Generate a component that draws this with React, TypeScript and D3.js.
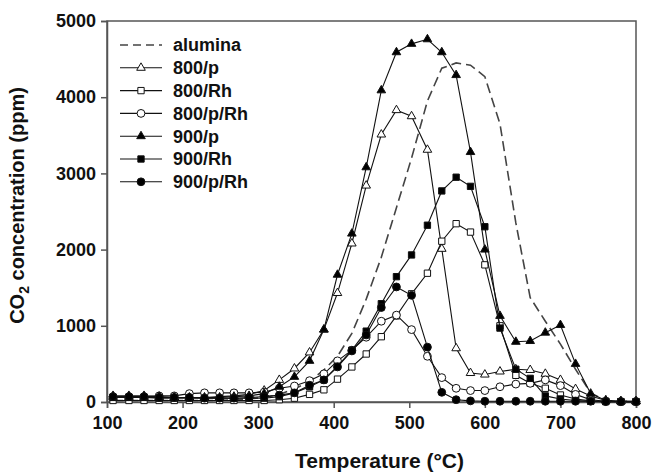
import React, { useRef, useEffect } from "react";
import * as d3 from "d3";

// measurement temperatures (°C), shared by all series
const temps = [
  108, 129, 149, 169, 189, 209, 229, 249, 268, 288, 308, 328, 348, 368, 387, 405, 424, 443,
  463, 483, 503, 524, 543, 562, 581, 600, 620, 641, 660, 680, 700, 720, 740, 760, 780, 800,
];

// CO2 concentration (ppm)
const alumina = [
  20, 20, 20, 20, 20, 20, 20, 20, 30, 40, 60, 100, 170, 270, 420, 600, 900, 1350,
  1900, 2550, 3200, 3950, 4380, 4450, 4420, 4270, 3650, 2350, 1370, 1060, 760, 430, 120, 20, 10, 10,
];
const p800 = [
  60, 60, 60, 60, 60, 60, 60, 70, 80, 100, 150, 290, 440, 650, 950, 1430, 2080, 2840,
  3510, 3830, 3750, 3310, 2010, 705, 380, 360, 400, 430, 420, 370, 290, 170, 80, 20, 10, 10,
];
const rh800 = [
  20, 20, 20, 20, 20, 20, 20, 20, 20, 20, 20, 30, 50, 100, 160, 300, 460, 630,
  857, 1130, 1420, 1690, 2110, 2340, 2230, 1800, 1000, 350, 245, 180, 92, 40, 15, 10, 5, 5,
];
const pRh800 = [
  70, 70, 70, 80, 80, 110, 120, 120, 120, 120, 130, 180, 210, 280, 370, 540, 680, 850,
  1060, 1140, 950, 600, 320, 180, 150, 150, 200, 235, 245, 290, 215, 100, 30, 10, 5, 5,
];
const p900 = [
  80, 80, 80, 70, 60, 60, 60, 60, 70, 80, 110, 200, 330, 540, 950, 1670, 2210, 3080,
  4090, 4590, 4700, 4760, 4590, 4290, 3280, 2000, 1130, 790, 800, 910, 1010, 500, 110, 20, 10, 10,
];
const rh900 = [
  60, 60, 60, 50, 50, 50, 50, 50, 50, 50, 50, 70, 120, 200, 290, 470, 680, 930,
  1290, 1645, 1930, 2320, 2770, 2950, 2830, 2300, 970, 430, 310, 80, 40, 20, 10, 5, 5, 5,
];
const pRh900 = [
  70, 70, 70, 60, 60, 60, 50, 50, 50, 60, 70, 90, 120, 220, 290, 460, 670, 880,
  1240, 1510, 1400, 720, 127, 30, 15, 10, 10, 10, 10, 10, 10, 10, 10, 5, 5, 5,
];

const seriesNames = ["alumina", "800/p", "800/Rh", "800/p/Rh", "900/p", "900/Rh", "900/p/Rh"];
const seriesValues = [alumina, p800, rh800, pRh800, p900, rh900, pRh900];
const seriesMarkers = ["none", "triangle", "square", "circle", "triangle", "square", "circle"];
const seriesFilled = [false, false, false, false, true, true, true];

const xTicks = [100, 200, 300, 400, 500, 600, 700, 800];
const yTicks = [0, 1000, 2000, 3000, 4000, 5000];

const Chart = () => {
  const svgRef = useRef(null);

  useEffect(() => {
    document.body.style.margin = "0";
    const svg = d3.select(svgRef.current);
    svg.selectAll("*").remove();

    const width = 656;
    const height = 472;
    const margin = { top: 21, right: 20, bottom: 70, left: 107 };
    const font = "'Liberation Sans', Arial, sans-serif";

    const x = d3.scaleLinear().domain([100, 800]).range([margin.left, width - margin.right]);
    const y = d3.scaleLinear().domain([0, 5000]).range([height - margin.bottom, margin.top]);

    const axisColor = "#555";

    // frame
    svg
      .append("rect")
      .attr("x", x(100))
      .attr("y", y(5000))
      .attr("width", x(800) - x(100))
      .attr("height", y(0) - y(5000))
      .attr("fill", "none")
      .attr("stroke", axisColor)
      .attr("stroke-width", 1.5);

    // axes
    const xAxis = svg
      .append("g")
      .attr("transform", `translate(0,${y(0)})`)
      .call(d3.axisBottom(x).tickValues(xTicks).tickSize(6).tickPadding(8).tickFormat(d3.format("d")));
    const yAxis = svg
      .append("g")
      .attr("transform", `translate(${x(100)},0)`)
      .call(d3.axisLeft(y).tickValues(yTicks).tickSize(6).tickPadding(5).tickFormat(d3.format("d")));

    [xAxis, yAxis].forEach((g) => {
      g.select(".domain").attr("stroke", axisColor).attr("stroke-width", 1.5);
      g.selectAll(".tick line").attr("stroke", axisColor).attr("stroke-width", 1.5);
      g.selectAll("text")
        .attr("fill", "#111")
        .style("font-family", font)
        .style("font-weight", "bold")
        .style("font-size", "18px");
    });

    // axis titles
    svg
      .append("text")
      .attr("x", (x(100) + x(800)) / 2 + 8)
      .attr("y", 468)
      .attr("text-anchor", "middle")
      .style("font-family", font)
      .style("font-weight", "bold")
      .style("font-size", "21px")
      .attr("fill", "#111")
      .text("Temperature (°C)");

    const yTitle = svg
      .append("text")
      .attr("transform", `translate(24,${(y(0) + y(5000)) / 2 - 6}) rotate(-90)`)
      .attr("text-anchor", "middle")
      .style("font-family", font)
      .style("font-weight", "bold")
      .style("font-size", "20px")
      .attr("fill", "#111");
    yTitle.append("tspan").text("CO");
    yTitle.append("tspan").attr("dy", 5).style("font-size", "14px").text("2");
    yTitle.append("tspan").attr("dy", -5).text(" concentration (ppm)");

    const symbolFor = (m) => {
      if (m === "triangle") return d3.symbol().type(d3.symbolTriangle).size(32)();
      if (m === "square") return d3.symbol().type(d3.symbolSquare).size(40)();
      return d3.symbol().type(d3.symbolCircle).size(48)();
    };

    const line = d3
      .line()
      .x((d) => x(d[0]))
      .y((d) => y(d[1]));

    const plot = svg.append("g");
    seriesValues.forEach((vals, i) => {
      const pts = temps.map((t, j) => [t, vals[j]]);
      const dashed = seriesMarkers[i] === "none";
      plot
        .append("path")
        .datum(pts)
        .attr("d", line)
        .attr("fill", "none")
        .attr("stroke", dashed ? "#444" : "#111")
        .attr("stroke-width", dashed ? 1.6 : 1.1)
        .attr("stroke-dasharray", dashed ? "10,5" : null);
      if (!dashed) {
        plot
          .selectAll(null)
          .data(pts)
          .enter()
          .append("path")
          .attr("d", symbolFor(seriesMarkers[i]))
          .attr("transform", (d) => `translate(${x(d[0])},${y(d[1])})`)
          .attr("fill", seriesFilled[i] ? "#000" : "#fff")
          .attr("stroke", "#111")
          .attr("stroke-width", 1);
      }
    });

    // legend
    const legend = svg.append("g");
    seriesNames.forEach((name, i) => {
      const ly = 45 + i * 22.8;
      const dashed = seriesMarkers[i] === "none";
      legend
        .append("line")
        .attr("x1", 120)
        .attr("x2", 162)
        .attr("y1", ly)
        .attr("y2", ly)
        .attr("stroke", dashed ? "#444" : "#111")
        .attr("stroke-width", dashed ? 1.6 : 1.1)
        .attr("stroke-dasharray", dashed ? "8,5" : null);
      if (!dashed) {
        legend
          .append("path")
          .attr("d", symbolFor(seriesMarkers[i]))
          .attr("transform", `translate(141,${ly})`)
          .attr("fill", seriesFilled[i] ? "#000" : "#fff")
          .attr("stroke", "#111")
          .attr("stroke-width", 1);
      }
      legend
        .append("text")
        .attr("x", 173)
        .attr("y", ly)
        .attr("dy", "0.35em")
        .style("font-family", font)
        .style("font-weight", "bold")
        .style("font-size", "18px")
        .attr("fill", "#111")
        .text(name);
    });
  }, []);

  return <svg ref={svgRef} width={656} height={472} style={{ display: "block" }}></svg>;
};

export default function App() {
  return <Chart />;
}
